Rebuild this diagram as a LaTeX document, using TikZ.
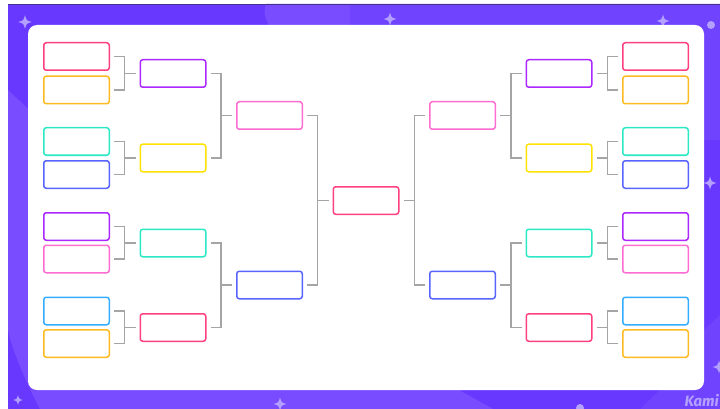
\documentclass[tikz,border=0pt]{standalone}
\usepackage{fontspec}
\newfontfamily\kamifont{Fira Sans}
\usepackage{tikz}
\usepackage{xcolor}
\definecolor{bgpurple}{RGB}{104, 56, 255}
\definecolor{bglight}{RGB}{122, 76, 255}
\definecolor{bgmid}{RGB}{112, 68, 255}
\definecolor{topline}{RGB}{70, 50, 140}
\definecolor{sparkle}{RGB}{180, 160, 255}
\definecolor{linegray}{RGB}{165, 165, 165}
\definecolor{slotred}{RGB}{255, 64, 128}
\definecolor{slotamber}{RGB}{255, 186, 34}
\definecolor{slotteal}{RGB}{44, 232, 196}
\definecolor{slotblue}{RGB}{88, 100, 255}
\definecolor{slotpurple}{RGB}{172, 40, 255}
\definecolor{slotpink}{RGB}{255, 108, 210}
\definecolor{slotyellow}{RGB}{255, 226, 0}
\definecolor{slotsky}{RGB}{52, 172, 255}

\tikzset{
  sparkstar/.pic={
    \fill (0,-6.5) .. controls (1.4,-1.4) .. (6.5,0) .. controls (1.4,1.4) .. (0,6.5)
          .. controls (-1.4,1.4) .. (-6.5,0) .. controls (-1.4,-1.4) .. (0,-6.5) -- cycle;
  }
}

\begin{document}
\begin{tikzpicture}[x=1pt, y=-1pt,
    slot/.style={draw, line width=1.5pt, rounded corners=2.5pt, fill=white,
                 minimum width=65.5pt, minimum height=27.5pt, inner sep=0pt},
    link/.style={draw=linegray, line width=1.7pt}]
  \useasboundingbox (0,0) rectangle (720,409);
  % Background frame
  \fill[white] (0,0) rectangle (720,409);
  \fill[bgpurple] (8,4) rectangle (720,409);
  \fill[bglight] (8,90) -- (40,120) -- (40,385) -- (450,385) -- (493,409) -- (40,409)
        .. controls (25,380) and (12,350) .. (8,330) -- cycle;
  \fill[bglight] (266,4) .. controls (263,12) and (265,20) .. (272,30) -- (350,30) -- (350,4) -- cycle;
  \fill[bgmid] (350,4) -- (720,4) -- (720,140) -- (704,140) -- (704,30) -- (350,30) -- cycle;
  \fill[bgmid] (704,330) -- (720,315) -- (720,409) -- (640,409) -- (660,390) -- cycle;
  \draw[topline, line width=1pt] (8,4.5) -- (720,4.5);
  % Sparkles and dots
  \foreach \sx/\sy/\sc in {25/22/1.05, 390/19/1, 663/21/1, 710/183/1, 18/400/0.75, 280/404/1, 719/367/1}{
    \pic[sparkle, scale=\sc] at (\sx,\sy) {sparkstar};
  }
  \foreach \dx/\dy in {711/25, 79/34, 580/408}{
    \fill[sparkle] (\dx,\dy) circle (4);
  }
  % White card
  \fill[white, rounded corners=9pt] (28,25) rectangle (704,390);

  % Round 1 slots, both sides
  \foreach \col/\y [count=\i] in {slotred/56.5, slotamber/90, slotteal/141.5, slotblue/174.5,
                                 slotpurple/226.5, slotpink/259, slotsky/311, slotamber/343.5}{
    \node[slot, draw=\col] (l1-\i) at (76.5,\y) {};
    \node[slot, draw=\col] (r1-\i) at (655.5,\y) {};
  }
  % Round 2 slots
  \foreach \col/\y [count=\i] in {slotpurple/73.5, slotyellow/158, slotteal/243, slotred/327.5}{
    \node[slot, draw=\col] (l2-\i) at (173,\y) {};
    \node[slot, draw=\col] (r2-\i) at (559,\y) {};
  }
  % Semi-final slots
  \foreach \col/\y [count=\i] in {slotpink/115.5, slotblue/285}{
    \node[slot, draw=\col] (l3-\i) at (269.5,\y) {};
    \node[slot, draw=\col] (r3-\i) at (462.5,\y) {};
  }
  % Final
  \node[slot, draw=slotred] (fin) at (366,200.5) {};

  % Brackets, left side
  \foreach \a/\b/\c in {l1-1/l1-2/l2-1, l1-3/l1-4/l2-2, l1-5/l1-6/l2-3, l1-7/l1-8/l2-4,
                        l2-1/l2-2/l3-1, l2-3/l2-4/l3-2, l3-1/l3-2/fin}{
    \draw[link] ([xshift=4pt]\a.east) -| ([xshift=-15pt]\c.west) |- ([xshift=4pt]\b.east);
    \draw[link] ([xshift=-15pt]\c.west) -- ([xshift=-4pt]\c.west);
  }
  % Brackets, right side
  \foreach \a/\b/\c in {r1-1/r1-2/r2-1, r1-3/r1-4/r2-2, r1-5/r1-6/r2-3, r1-7/r1-8/r2-4,
                        r2-1/r2-2/r3-1, r2-3/r2-4/r3-2, r3-1/r3-2/fin}{
    \draw[link] ([xshift=-4pt]\a.west) -| ([xshift=15pt]\c.east) |- ([xshift=-4pt]\b.west);
    \draw[link] ([xshift=15pt]\c.east) -- ([xshift=4pt]\c.east);
  }

  % Logo
  \node[text=sparkle, anchor=base east, inner sep=0pt,
        font=\kamifont\bfseries\itshape\fontsize{15}{15}\selectfont] (logo) at (719,406) {Kami};
\end{tikzpicture}
\end{document}
